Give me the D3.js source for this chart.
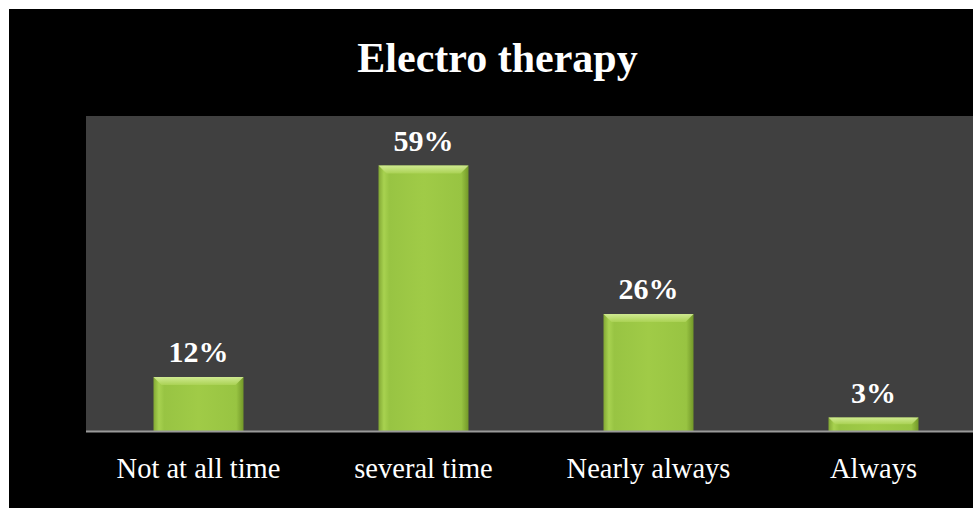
<!DOCTYPE html>
<html lang="en">
<head>
<meta charset="UTF-8">
<title>Electro therapy</title>
<style>
    body { margin: 0; background: #ffffff; }
    svg { display: block; }
    .title { font: bold 42px "Liberation Serif", "Times New Roman", serif; fill: #ffffff; }
    .value { font: bold 30px "Liberation Serif", "Times New Roman", serif; fill: #ffffff; }
    .cat { font: 28.5px "Liberation Serif", "Times New Roman", serif; fill: #ffffff; }
</style>
<script src="https://cdn.jsdelivr.net/npm/d3@7"></script>
</head>
<body>
<div id="chart"></div>
<script>
    // data
    var categories = ["Not at all time", "several time", "Nearly always", "Always"];
    var values = [12, 59, 26, 3];
    var titleText = "Electro therapy";

    var width = 973, height = 508;
    // chart frame is wider than the window, its right side is cut off
    var frame = {left: 9, top: 9, right: 986, bottom: 508};
    var plot = {left: 86, top: 116, right: 986, bottom: 431};

    var svg = d3.select("#chart").append("svg")
        .attr("width", width)
        .attr("height", height);

    var defs = svg.append("defs");
    var grad = defs.append("linearGradient")
        .attr("id", "barGrad")
        .attr("x1", "0%").attr("x2", "100%").attr("y1", "0%").attr("y2", "0%");
    grad.append("stop").attr("offset", "0%").attr("stop-color", "#82a834");
    grad.append("stop").attr("offset", "6%").attr("stop-color", "#a8d250");
    grad.append("stop").attr("offset", "12%").attr("stop-color", "#98c443");
    grad.append("stop").attr("offset", "50%").attr("stop-color", "#a0cb47");
    grad.append("stop").attr("offset", "92%").attr("stop-color", "#98c442");
    grad.append("stop").attr("offset", "100%").attr("stop-color", "#739829");

    var bevel = defs.append("linearGradient")
        .attr("id", "bevelGrad")
        .attr("x1", "0%").attr("x2", "0%").attr("y1", "0%").attr("y2", "100%");
    bevel.append("stop").attr("offset", "0%").attr("stop-color", "#d9f09f");
    bevel.append("stop").attr("offset", "100%").attr("stop-color", "#add457");

    svg.append("rect")
        .attr("x", frame.left).attr("y", frame.top)
        .attr("width", frame.right - frame.left)
        .attr("height", frame.bottom - frame.top)
        .attr("fill", "#000000");

    svg.append("rect")
        .attr("x", plot.left).attr("y", plot.top)
        .attr("width", plot.right - plot.left)
        .attr("height", plot.bottom - plot.top)
        .attr("fill", "#404040");

    var x = d3.scaleBand()
        .domain(categories)
        .range([plot.left, plot.right])
        .paddingInner(0.6)
        .paddingOuter(0.3);

    var y = d3.scaleLinear()
        .domain([0, 70])
        .range([plot.bottom, plot.top]);

    var bars = svg.append("g").selectAll("g")
        .data(categories)
        .enter().append("g");

    bars.append("rect")
        .attr("x", function(d) { return x(d); })
        .attr("y", function(d, i) { return y(values[i]); })
        .attr("width", x.bandwidth())
        .attr("height", function(d, i) { return y(0) - y(values[i]); })
        .attr("fill", "url(#barGrad)");

    // bevel highlight on top edge
    bars.append("path")
        .attr("d", function(d, i) {
            var x0 = x(d), x1 = x(d) + x.bandwidth(), t = y(values[i]);
            var b = Math.min(8, (y(0) - t) / 2);
            return "M" + x0 + "," + t + "L" + x1 + "," + t +
                "L" + (x1 - b) + "," + (t + b) + "L" + (x0 + b) + "," + (t + b) + "Z";
        })
        .attr("fill", "url(#bevelGrad)")
        .attr("opacity", 0.85);

    bars.append("text")
        .attr("class", "value")
        .attr("x", function(d) { return x(d) + x.bandwidth() / 2; })
        .attr("y", function(d, i) { return y(values[i]) - 15; })
        .attr("text-anchor", "middle")
        .text(function(d, i) { return values[i] + "%"; });

    // baseline
    svg.append("line")
        .attr("x1", plot.left).attr("x2", plot.right)
        .attr("y1", y(0) + 0.5).attr("y2", y(0) + 0.5)
        .attr("stroke", "#999999")
        .attr("stroke-width", 2);

    var xAxis = d3.axisBottom(x).tickSize(0).tickPadding(0);
    var ax = svg.append("g")
        .attr("transform", "translate(0," + y(0) + ")")
        .call(xAxis);
    ax.select(".domain").remove();
    ax.selectAll("text")
        .attr("class", "cat")
        .attr("dy", null)
        .attr("y", 47)
        .attr("fill", null);

    svg.append("text")
        .attr("class", "title")
        .attr("x", (frame.left + frame.right) / 2)
        .attr("y", 72)
        .attr("text-anchor", "middle")
        .text(titleText);
</script>
</body>
</html>
